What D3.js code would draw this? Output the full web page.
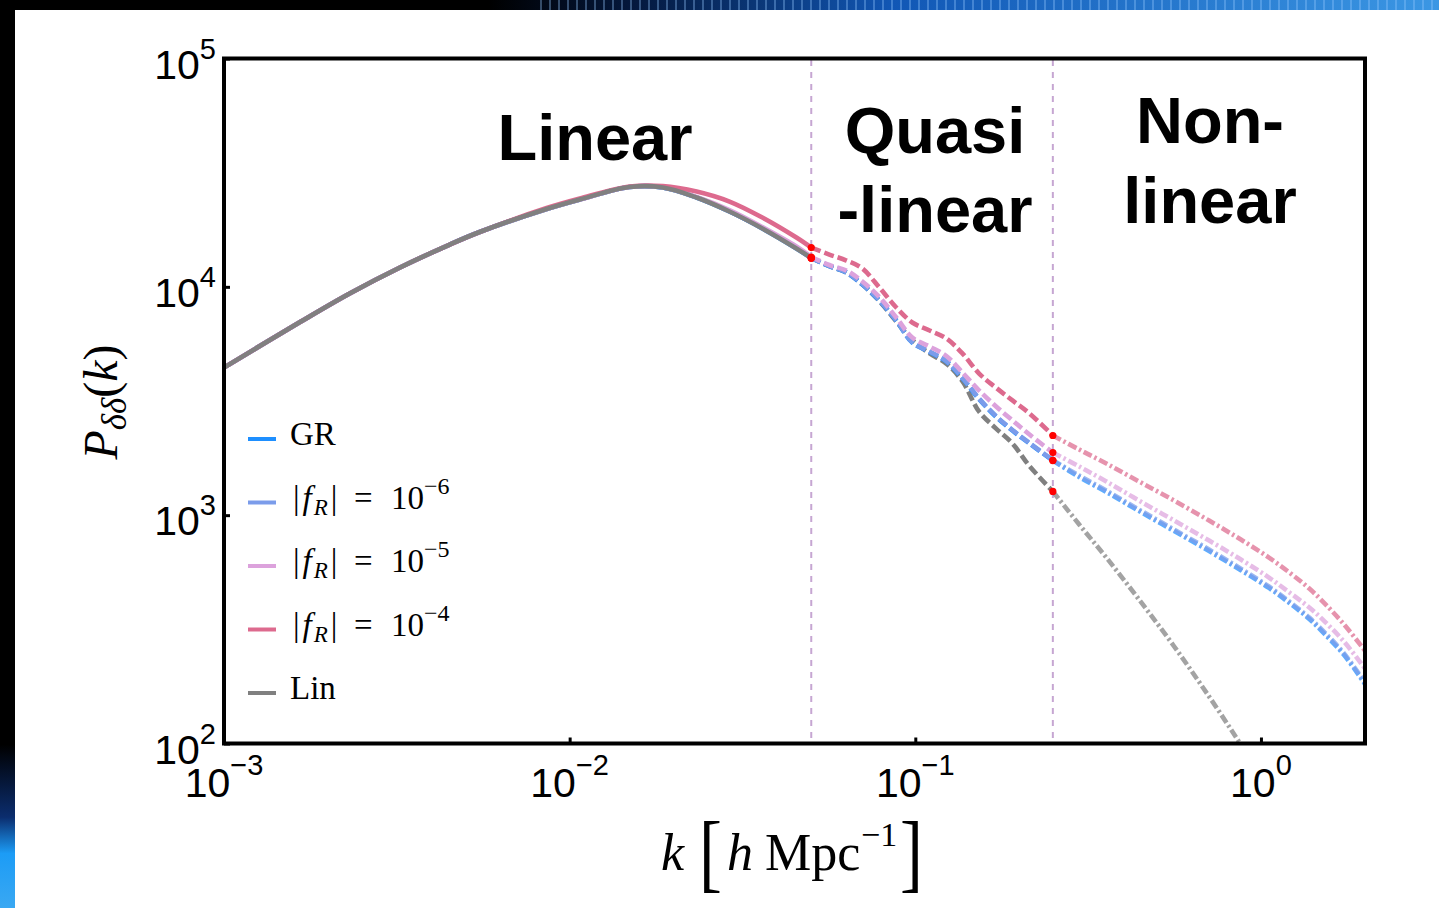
<!DOCTYPE html>
<html>
<head>
<meta charset="utf-8">
<script src="https://cdn.jsdelivr.net/npm/d3@7"></script>
<style>
  body { margin: 0; background: #fff; }
  svg { display: block; }
</style>
</head>
<body>
<svg id="chart" width="1439" height="908"></svg>
<script>
// wavenumbers k [h/Mpc], shared by every curve
const kValues = [
  0.001, 0.00166, 0.00231, 0.00323, 0.0045, 0.00549, 0.00858, 0.0107, 0.0149, 0.0186, 0.0233, 0.029, 0.0361, 0.0453, 0.05,
  0.0564, 0.0632, 0.0703, 0.0787, 0.0881, 0.098, 0.11, 0.123, 0.137, 0.153, 0.171, 0.191, 0.214, 0.25,
  0.298, 0.357, 0.444, 0.561, 0.708, 0.875, 1.055, 1.22, 1.38, 1.53, 1.74, 2.0
];

const pGR = [
  4430, 7010, 9350, 12150, 15320, 17380, 21920, 24120, 27360, 27230, 24610, 21370, 18010, 14720, 13370,
  12320, 11550, 10230, 8710, 7120, 5700, 5185, 4707, 3966, 3222, 2704, 2347, 2059, 1734,
  1469, 1263, 1042, 852, 696, 574, 480, 408, 351, 301, 244, 182
];
const pF6 = [
  4430, 7010, 9350, 12150, 15320, 17380, 21920, 24120, 27360, 27230, 24650, 21420, 18080, 14790, 13370,
  12360, 11600, 10280, 8750, 7150, 5730, 5210, 4730, 3990, 3240, 2720, 2360, 2070, 1740,
  1491, 1282, 1058, 865, 707, 583, 487, 414, 356, 306, 248, 185
];
const pF5 = [
  4430, 7010, 9350, 12150, 15320, 17380, 21920, 24120, 27360, 27300, 24740, 21700, 18280, 15020, 13510,
  12460, 11790, 10550, 9020, 7340, 6000, 5480, 4980, 4210, 3515, 3000, 2600, 2255, 1880,
  1633, 1404, 1158, 947, 774, 639, 533, 454, 394, 342, 279, 213
];
const pF4 = [
  4430, 7010, 9350, 12150, 15320, 17380, 22140, 24370, 27500, 27640, 26150, 23640, 20120, 16440, 14860,
  13850, 13040, 12030, 9930, 8120, 6980, 6440, 5940, 5100, 4170, 3620, 3180, 2790, 2233,
  1938, 1683, 1404, 1158, 947, 782, 652, 555, 477, 410, 332, 255
];
const pLin = [
  4430, 7010, 9350, 12150, 15320, 17380, 21920, 24120, 27360, 27230, 24610, 21370, 18010, 14720, 13370,
  12320, 11550, 10230, 8660, 7050, 5850, 5110, 4610, 3850, 2840, 2400, 2060, 1640, 1270,
  910, 652, 427, 266, 160.5, 98.9, 64.1, null, null, null, null, null
];

const seriesKeys = ["GR", "f6", "f5", "f4", "Lin"];
const seriesExp = [null, "−6", "−5", "−4", null];
const seriesColors = ["#1e8fff", "#7b9cea", "#dca2dc", "#dd6a8e", "#808080"];

const regimeEdges = [0.05, 0.25];
const regimeLabels = [["Linear"], ["Quasi", "-linear"], ["Non-", "linear"]];

const xTicks = [1e-3, 1e-2, 1e-1, 1];
const xTickExp = ["−3", "−2", "−1", "0"];
const yTicks = [1e2, 1e3, 1e4, 1e5];
const yTickExp = ["2", "3", "4", "5"];

const W = 1439, H = 908;
const sans = "'Liberation Sans', Arial, Helvetica, sans-serif";
const serif = "'Liberation Serif', 'Times New Roman', serif";

const svg = d3.select("#chart");
const defs = svg.append("defs");

// dark/blue frame around the slide
const topGrad = defs.append("linearGradient").attr("id", "topGrad");
[["0%", "#000"], ["34%", "#000"], ["44%", "#04183d"], ["62%", "#1157b5"], ["100%", "#3b97e4"]]
  .forEach(([o, c]) => topGrad.append("stop").attr("offset", o).attr("stop-color", c));
const leftGrad = defs.append("linearGradient").attr("id", "leftGrad")
  .attr("x1", 0).attr("y1", 0).attr("x2", 0).attr("y2", 1);
[["0%", "#000"], ["82%", "#000"], ["90%", "#0b2d6e"], ["94%", "#1c9cf6"], ["100%", "#3aa8f2"]]
  .forEach(([o, c]) => leftGrad.append("stop").attr("offset", o).attr("stop-color", c));
const stripes = defs.append("pattern").attr("id", "stripes")
  .attr("patternUnits", "userSpaceOnUse").attr("width", 9).attr("height", 10);
stripes.append("rect").attr("width", 2).attr("height", 10).attr("fill", "rgba(150,200,255,0.35)");

svg.append("rect").attr("width", W).attr("height", 10).attr("fill", "url(#topGrad)");
svg.append("rect").attr("x", 540).attr("width", W - 540).attr("height", 10).attr("fill", "url(#stripes)");
svg.append("rect").attr("width", 15).attr("height", H).attr("fill", "url(#leftGrad)");

const x = d3.scaleLog().domain([1e-3, 2]).range([224, 1365]);
const y = d3.scaleLog().domain([1e2, 1e5]).range([743.5, 58.5]);

defs.append("clipPath").attr("id", "plotClip")
  .append("rect").attr("x", 224).attr("y", 58.5).attr("width", 1141).attr("height", 685);

const plot = svg.append("g").attr("clip-path", "url(#plotClip)");

// regime boundaries
plot.selectAll(".edge").data(regimeEdges).enter().append("line")
  .attr("x1", d => x(d)).attr("x2", d => x(d))
  .attr("y1", 60).attr("y2", 742)
  .attr("stroke", "#c6a6d2").attr("stroke-width", 2).attr("stroke-dasharray", "6,6");

const series = seriesKeys.map((key, i) => ({
  key,
  color: seriesColors[i],
  exp: seriesExp[i],
  points: kValues.map((k, j) => ({ k, p: [pGR, pF6, pF5, pF4, pLin][i][j] }))
}));

const line = d3.line()
  .defined(d => d.p != null)
  .x(d => x(d.k))
  .y(d => y(d.p))
  .curve(d3.curveCatmullRom.alpha(0.5));

const regimes = [
  { lo: 0, hi: 0.05, dash: null, opacity: 1, order: ["GR", "f6", "f5", "f4", "Lin"] },
  { lo: 0.05, hi: 0.25, dash: "10,4", opacity: 1, order: ["Lin", "GR", "f6", "f5", "f4"] },
  { lo: 0.25, hi: 10, dash: "9,3,2.5,3", opacity: 0.72, order: ["Lin", "GR", "f6", "f5", "f4"] }
];

regimes.forEach(r => {
  r.order.forEach(key => {
    const s = series.find(d => d.key === key);
    const pts = s.points.filter(d => d.k >= r.lo && d.k <= r.hi && d.p != null);
    plot.append("path")
      .attr("d", line(pts))
      .attr("fill", "none")
      .attr("stroke", s.color)
      .attr("stroke-width", 4.6)
      .attr("stroke-opacity", r.opacity)
      .attr("stroke-dasharray", r.dash);
  });
});

// red markers where the regimes meet
const dots = [];
regimeEdges.forEach(e => {
  series.forEach(s => {
    const pt = s.points.find(d => d.k === e);
    if (pt && pt.p != null) dots.push(pt);
  });
});
plot.selectAll(".dot").data(dots).enter().append("circle")
  .attr("cx", d => x(d.k)).attr("cy", d => y(d.p)).attr("r", 3.6).attr("fill", "#ff0000");

// frame
svg.append("rect").attr("x", 224).attr("y", 58.5).attr("width", 1141).attr("height", 685)
  .attr("fill", "none").attr("stroke", "#000").attr("stroke-width", 4);

const xAxis = d3.axisBottom(x).tickValues(xTicks).tickSizeInner(-6).tickSizeOuter(0).tickFormat("");
svg.append("g").attr("transform", "translate(0,743.5)").call(xAxis)
  .call(g => g.select(".domain").remove())
  .selectAll("line").attr("stroke", "#000").attr("stroke-width", 3);

const yAxis = d3.axisLeft(y).tickValues(yTicks).tickSizeInner(-6).tickSizeOuter(0).tickFormat("");
svg.append("g").attr("transform", "translate(224,0)").call(yAxis)
  .call(g => g.select(".domain").remove())
  .selectAll("line").attr("stroke", "#000").attr("stroke-width", 3);

// tick labels 10^n
xTicks.forEach((t, i) => {
  const txt = svg.append("text")
    .attr("x", x(t)).attr("y", 797)
    .attr("text-anchor", "middle")
    .style("font-family", sans).style("font-size", "41px").attr("fill", "#000");
  txt.append("tspan").text("10");
  txt.append("tspan").attr("dy", -22).style("font-size", "29px").text(xTickExp[i]);
});
yTicks.forEach((t, i) => {
  const txt = svg.append("text")
    .attr("x", 216).attr("y", y(t) + 20)
    .attr("text-anchor", "end")
    .style("font-family", sans).style("font-size", "41px").attr("fill", "#000");
  txt.append("tspan").text("10");
  txt.append("tspan").attr("dy", -20).style("font-size", "29px").text(yTickExp[i]);
});

// regime labels
const labelCenters = [595, 935, 1210];
const labelBaselines = [[160], [153, 232], [143, 223]];
regimeLabels.forEach((lines, i) => {
  lines.forEach((t, j) => {
    svg.append("text")
      .attr("x", labelCenters[i]).attr("y", labelBaselines[i][j])
      .attr("text-anchor", "middle")
      .style("font-family", sans).style("font-weight", "bold").style("font-size", "65px")
      .attr("fill", "#000").text(t);
  });
});

// legend
series.forEach((s, i) => {
  const ly = 439 + i * 63.5;
  svg.append("line").attr("x1", 248).attr("x2", 276).attr("y1", ly).attr("y2", ly)
    .attr("stroke", s.color).attr("stroke-width", 4);
  const txt = svg.append("text").attr("y", ly + 6)
    .style("font-family", serif).style("font-size", "33px").attr("fill", "#000");
  if (s.exp == null) {
    txt.attr("x", 290).text(s.key);
  } else {
    txt.append("tspan").attr("x", 293).text("|");
    txt.append("tspan").attr("dx", 3).style("font-style", "italic").text("f");
    txt.append("tspan").attr("dx", 2).style("font-style", "italic").style("font-size", "23px").attr("dy", 6).text("R");
    txt.append("tspan").attr("dx", 3).attr("dy", -6).text("|");
    txt.append("tspan").attr("x", 354).text("=");
    txt.append("tspan").attr("x", 391).text("10");
    txt.append("tspan").style("font-size", "24px").attr("dy", -15).text(s.exp);
  }
});

// axis titles
const yl = svg.append("text")
  .attr("transform", "translate(117,402) rotate(-90)")
  .attr("text-anchor", "middle")
  .style("font-family", serif).style("font-size", "48px").attr("fill", "#000");
yl.append("tspan").style("font-style", "italic").text("P");
yl.append("tspan").style("font-style", "italic").style("font-size", "35px").attr("dy", 9).text("δδ");
yl.append("tspan").attr("dy", -9).text("(");
yl.append("tspan").style("font-style", "italic").text("k");
yl.append("tspan").text(")");

const xl = svg.append("g").style("font-family", serif).attr("fill", "#000");
xl.append("text").attr("x", 661).attr("y", 870).style("font-size", "52px").style("font-style", "italic").text("k");
xl.append("text").attr("x", 699).attr("y", 881).attr("transform", "translate(699,0) scale(0.8,1) translate(-699,0)")
  .style("font-size", "86px").style("font-weight", "300").text("[");
xl.append("text").attr("x", 727).attr("y", 870).style("font-size", "52px").style("font-style", "italic").text("h");
xl.append("text").attr("x", 765).attr("y", 870).style("font-size", "52px").text("Mpc");
xl.append("text").attr("x", 861).attr("y", 846).style("font-size", "34px").text("−1");
xl.append("text").attr("x", 900).attr("y", 881).attr("transform", "translate(900,0) scale(0.8,1) translate(-900,0)")
  .style("font-size", "86px").text("]");
</script>
</body>
</html>
